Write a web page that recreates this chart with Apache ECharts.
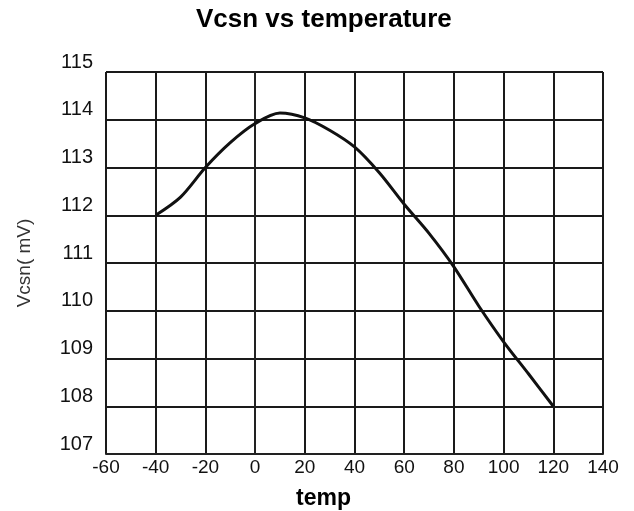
<!DOCTYPE html>
<html><head><meta charset="utf-8">
<script src="https://cdn.jsdelivr.net/npm/echarts@6/dist/echarts.min.js"></script>
<style>html,body{margin:0;padding:0;background:#fff}#c{width:634px;height:511px}</style>
</head><body><div id="c"></div>
<script>
const temps = [-40,-30,-20,-10,0,10,20,30,40,50,60,70,80,90,100,110,120];
const vcsn = [112.0,112.38,113.0,113.52,113.92,114.14,114.04,113.78,113.43,112.89,112.23,111.62,110.92,110.1,109.35,108.68,108.0];
const titleText = 'Vcsn vs temperature';
const xName = 'temp';
const yName = 'Vcsn( mV)';

const chart = echarts.init(document.getElementById('c'), null, {renderer:'canvas'});
const font = 'Liberation Sans, Arial, sans-serif';
chart.setOption({
  animation:false,
  backgroundColor:'#fff',
  graphic:[{type:'text',left:196,top:7,style:{text:titleText,font:'bold 26px Liberation Sans, Arial, sans-serif',fill:'#000'}}],
  grid:{left:106,right:31,top:72,bottom:57,outerBoundsMode:'none',containLabel:false},
  xAxis:{type:'value',min:-60,max:140,interval:20,
    name:xName,nameLocation:'middle',nameGap:33,
    nameTextStyle:{fontFamily:font,fontWeight:'bold',fontSize:23,color:'#000',padding:[0,62,0,0]},
    axisLine:{lineStyle:{color:'#222',width:2}},axisTick:{show:false},
    axisLabel:{fontFamily:font,fontSize:19,color:'#111',margin:4},
    splitLine:{show:true,lineStyle:{color:'#1a1a1a',width:2}}},
  yAxis:{type:'value',min:107,max:115,interval:1,
    name:yName,nameLocation:'middle',nameGap:72,nameRotate:90,
    nameTextStyle:{fontFamily:font,fontSize:19,color:'#333'},
    axisLine:{show:true,lineStyle:{color:'#222',width:2}},axisTick:{show:false},
    axisLabel:{fontFamily:font,fontSize:20,color:'#111',margin:13,verticalAlign:'bottom',padding:[0,0,0,0]},
    splitLine:{show:true,lineStyle:{color:'#1a1a1a',width:2}}},
  series:[{type:'line',data:temps.map((t,i)=>[t,vcsn[i]]),smooth:0.3,symbol:'none',
    lineStyle:{color:'#111',width:3}}]
});
</script></body></html>
